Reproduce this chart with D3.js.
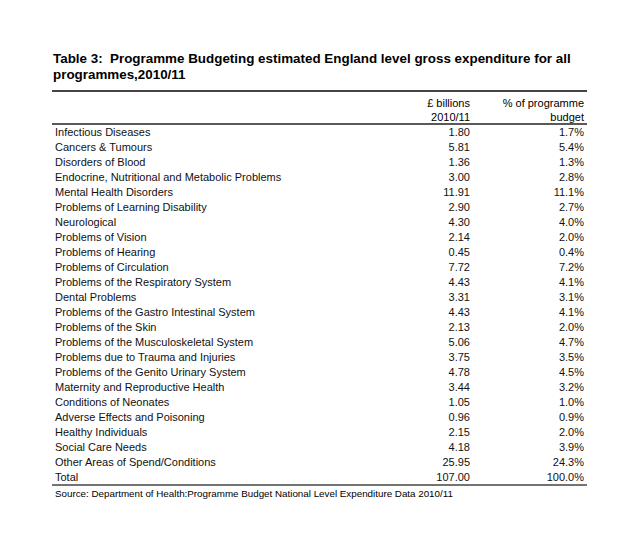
<!DOCTYPE html>
<html><head><meta charset="utf-8">
<script src="https://cdn.jsdelivr.net/npm/d3@7"></script>
<style>body{margin:0;background:#fff} text{white-space:pre}</style>
</head><body>
<script>
const categories = ["Infectious Diseases","Cancers & Tumours","Disorders of Blood","Endocrine, Nutritional and Metabolic Problems","Mental Health Disorders","Problems of Learning Disability","Neurological","Problems of Vision","Problems of Hearing","Problems of Circulation","Problems of the Respiratory System","Dental Problems","Problems of the Gastro Intestinal System","Problems of the Skin","Problems of the Musculoskeletal System","Problems due to Trauma and Injuries","Problems of the Genito Urinary System","Maternity and Reproductive Health","Conditions of Neonates","Adverse Effects and Poisoning","Healthy Individuals","Social Care Needs","Other Areas of Spend/Conditions","Total"];
const billions = [1.80,5.81,1.36,3.00,11.91,2.90,4.30,2.14,0.45,7.72,4.43,3.31,4.43,2.13,5.06,3.75,4.78,3.44,1.05,0.96,2.15,4.18,25.95,107.00];
const percent = [1.7,5.4,1.3,2.8,11.1,2.7,4.0,2.0,0.4,7.2,4.1,3.1,4.1,2.0,4.7,3.5,4.5,3.2,1.0,0.9,2.0,3.9,24.3,100.0];
const titleLines = ["Table 3:  Programme Budgeting estimated England level gross expenditure for all","programmes,2010/11"];
const header1 = ["£ billions","2010/11"];
const header2 = ["% of programme","budget"];
const source = "Source: Department of Health:Programme Budget National Level Expenditure Data 2010/11";

const W=640,H=542;
const svg=d3.select("body").append("svg").attr("width",W).attr("height",H)
  .style("font-family","'Liberation Sans', Arial, Helvetica, sans-serif");

const x0=52, x1=587, labelX=55, col1=470, col2=584;
svg.selectAll("text.title").data(titleLines).join("text").attr("class","title")
  .attr("x",53).attr("y",(d,i)=>63+i*15.5).attr("font-size",13.4).attr("font-weight","bold").attr("fill","#000").text(d=>d);

svg.append("line").attr("x1",x0).attr("x2",x1).attr("y1",91).attr("y2",91).attr("stroke","#444").attr("stroke-width",2);

const fs=11;
svg.selectAll("text.h1").data(header1).join("text").attr("class","h1")
  .attr("x",col1).attr("y",(d,i)=>107+i*14).attr("text-anchor","end").attr("font-size",fs).text(d=>d);
svg.selectAll("text.h2").data(header2).join("text").attr("class","h2")
  .attr("x",col2).attr("y",(d,i)=>107+i*14).attr("text-anchor","end").attr("font-size",fs).text(d=>d);

svg.append("line").attr("x1",x0).attr("x2",x1).attr("y1",124).attr("y2",124).attr("stroke","#222").attr("stroke-width",1.5);

const y=d3.scaleBand().domain(categories).range([124,484]);
const rows=svg.selectAll("g.row").data(categories).join("g").attr("class","row")
  .attr("transform",d=>`translate(0,${y(d)+y.bandwidth()/2+4})`);
rows.append("text").attr("x",labelX).attr("font-size",fs).attr("fill","#111").text(d=>d);
rows.append("text").attr("x",col1).attr("text-anchor","end").attr("font-size",fs).attr("fill","#111").text((d,i)=>d3.format(".2f")(billions[i]));
rows.append("text").attr("x",col2).attr("text-anchor","end").attr("font-size",fs).attr("fill","#111").text((d,i)=>d3.format(".1f")(percent[i])+"%");

svg.append("line").attr("x1",x0).attr("x2",x1).attr("y1",485).attr("y2",485).attr("stroke","#444").attr("stroke-width",1.5);
svg.append("text").attr("x",labelX).attr("y",497).attr("font-size",9.8).text(source);
</script>
</body></html>
